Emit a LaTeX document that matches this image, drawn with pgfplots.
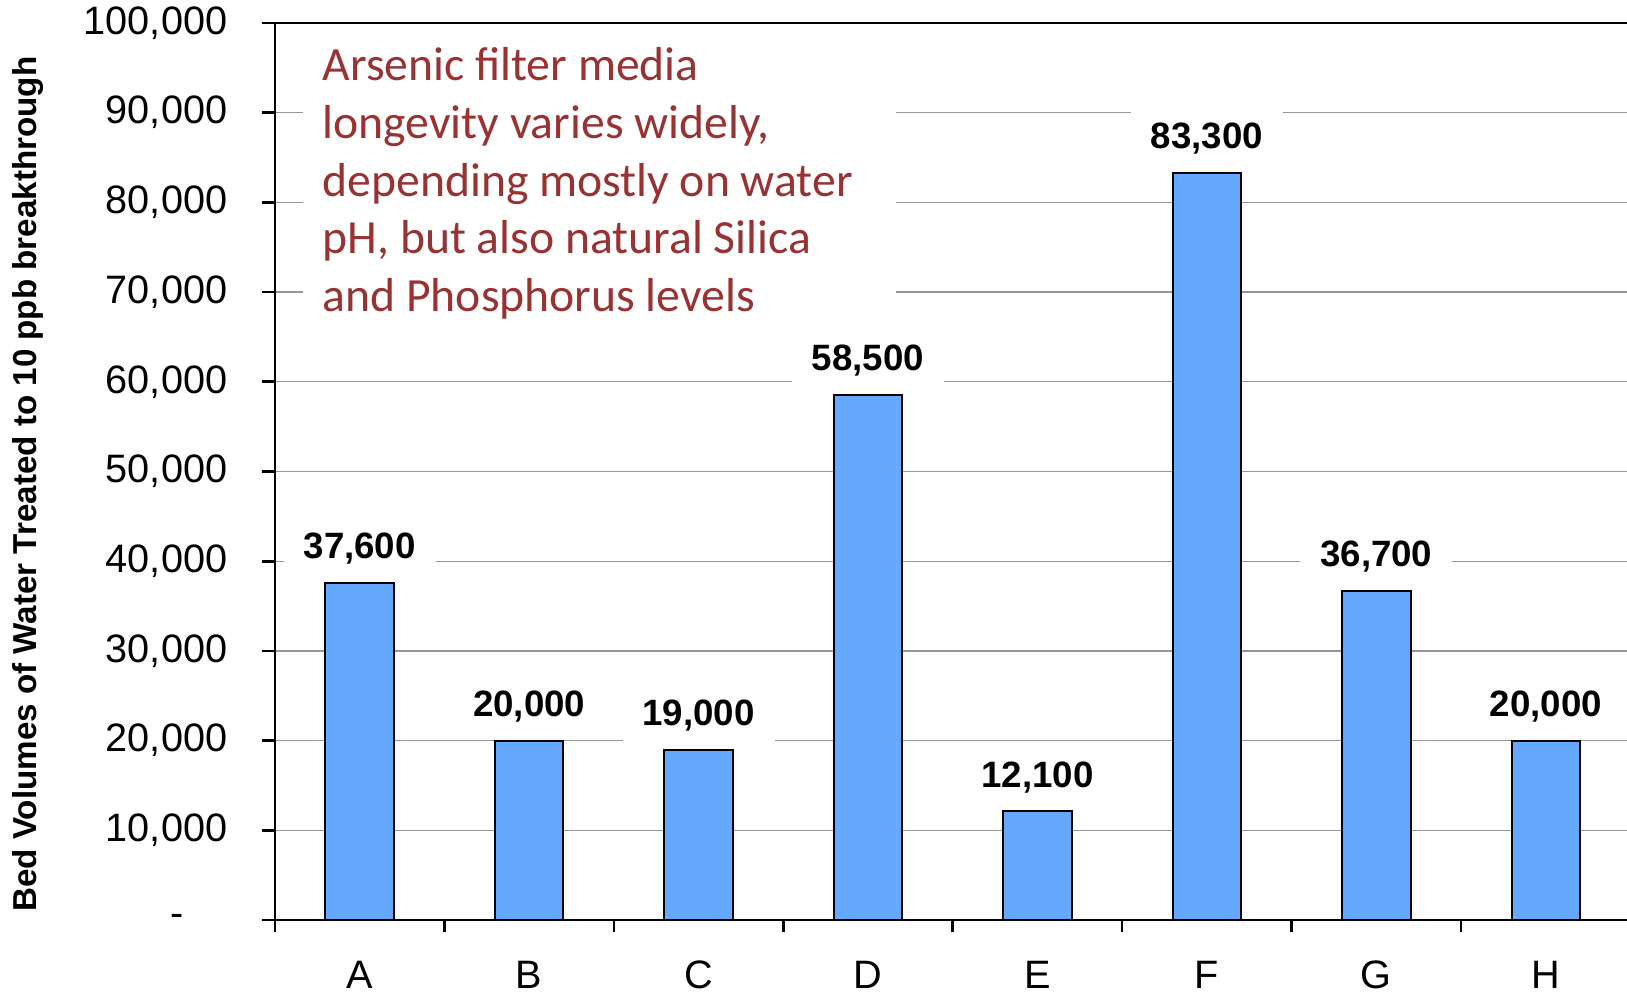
\documentclass[border=0pt]{standalone}
\usepackage{pgfplots}
\pgfplotsset{compat=1.18}
\usepackage{fontspec}
\setmainfont{Liberation Sans}
\newfontfamily\calibri{Carlito}

\definecolor{barblue}{RGB}{100,168,255}
\definecolor{notered}{RGB}{153,51,51}
\definecolor{gridgray}{RGB}{150,150,150}

\begin{document}
\begin{tikzpicture}
\begin{axis}[
    scale only axis,
    width=406.65pt, height=269.1pt,
    ybar,
    bar width=20.55pt,
    xmin=-0.5, xmax=7.5,
    ymin=0, ymax=100000,
    enlargelimits=false,
    axis line style={black, line width=0.8pt},
    tick align=outside,
    xtick pos=bottom, ytick pos=left,
    xtick={0,...,7},
    xticklabels={A,B,C,D,E,F,G,H},
    minor xtick={-0.5,0.5,...,7.5},
    major x tick style={draw=none},
    minor x tick style={black, line width=0.8pt},
    minor tick length=3.6pt,
    ytick={0,10000,...,100000},
    yticklabels={\makebox[17.1pt][l]{-},{10,000},{20,000},{30,000},{40,000},{50,000},{60,000},{70,000},{80,000},{90,000},{100,000}},
    scaled y ticks=false,
    y tick style={black, line width=0.8pt},
    major tick length=3.9pt,
    ymajorgrids,
    major grid style={gridgray, line width=0.4pt},
    tick label style={font=\fontsize{11.9pt}{13pt}\selectfont},
    yticklabel style={xshift=-6.9pt},
    xticklabel style={yshift=-4.8pt},
    every axis y label/.style={at={(axis description cs:-0.1822,0.486)}, rotate=90, anchor=center},
    ylabel={\bfseries\fontsize{9.95pt}{11pt}\selectfont Bed Volumes of Water Treated to 10 ppb breakthrough},
    nodes near coords={\pgfmathprintnumber[fixed, precision=0, 1000 sep={,}, assume math mode=true]{\pgfplotspointmeta}},
    nodes near coords style={anchor=south, yshift=2pt, fill=white, inner xsep=6pt, inner ysep=5pt,
        text depth=0pt, font=\bfseries\fontsize{11pt}{13pt}\selectfont, text=black},
]
\addplot[draw=black, line width=0.6pt, fill=barblue] coordinates {
    (0,37600) (1,20000) (2,19000) (3,58500)
    (4,12100) (5,83300) (6,36700) (7,20000)
};
\node[anchor=north west, fill=white, inner sep=6pt, text width=166pt, align=flush left,
      text=notered, font=\calibri\fontsize{14.3pt}{17.3pt}\selectfont,
      xshift=8.1pt, yshift=-1.2pt]
  at (rel axis cs:0,1)
  {Arsenic filter media\\ longevity varies widely,\\ depending mostly on water\\ pH, but also natural Silica\\ and Phosphorus levels};
\end{axis}
\pgfresetboundingbox
\path[use as bounding box] (-82.5pt,-22.5pt) rectangle (405.6pt,276pt);
\end{tikzpicture}
\end{document}
